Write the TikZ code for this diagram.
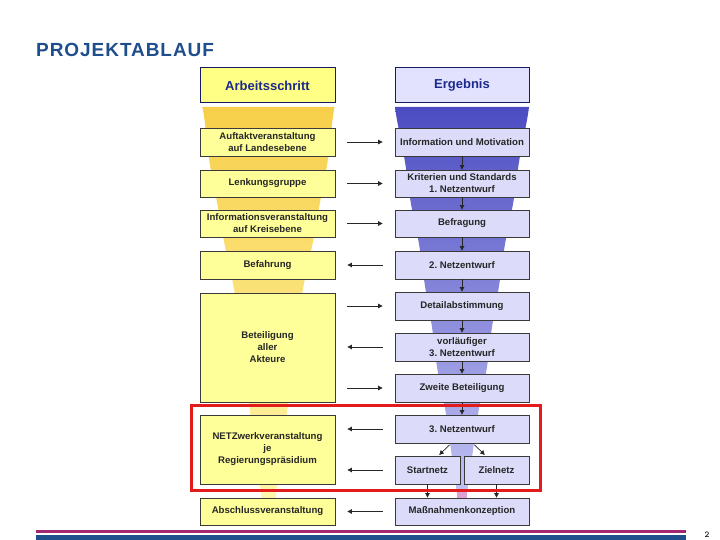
\documentclass[tikz,border=0pt]{standalone}
\usepackage{fontspec}
\setmainfont{Liberation Sans}
\usetikzlibrary{arrows.meta}
\frenchspacing
\definecolor{yfill}{HTML}{FFFF99}
\definecolor{yhead}{HTML}{FFFF85}
\definecolor{bfill}{HTML}{DCDCFA}
\definecolor{bhead}{HTML}{E2E2FF}
\definecolor{navy}{HTML}{1F4E8C}
\definecolor{hnavy}{HTML}{1C2A8C}
\definecolor{edge}{HTML}{3A3A3A}
\definecolor{ytop}{HTML}{F7CF4A}
\definecolor{ybot}{HTML}{FFF9B2}
\definecolor{btop}{HTML}{4C4CC2}
\definecolor{bbot}{HTML}{C4C4F4}
\definecolor{redframe}{HTML}{E21C1C}
\definecolor{magbar}{HTML}{A3276E}
\definecolor{pinktip}{HTML}{DDA0D2}
\begin{document}
\begin{tikzpicture}[x=1pt,y=-1pt,
  boxtext/.style={font=\fontsize{9.6}{12}\selectfont\bfseries\frenchspacing, text=black!85, align=center, inner sep=0pt},
  ybox/.style={boxtext, draw=edge, line width=0.8pt, fill=yfill, minimum width=135pt},
  bbox/.style={boxtext, draw=edge, line width=0.8pt, fill=bfill, minimum width=134pt},
  hdr/.style={font=\fontsize{13}{15}\selectfont\bfseries, text=hnavy, draw=hnavy!70!black, line width=1pt, minimum height=35pt, inner sep=0pt},
  arr/.style={-{Triangle[width=4.5pt,length=4.5pt]}, line width=0.75pt, black!85},
  harr/.style={arr, shorten <=12pt, shorten >=12pt},
  varr/.style={arr, line width=0.7pt}
]
\useasboundingbox (0,0) rectangle (720,540);

% funnels
\shade[top color=ytop, bottom color=ybot]
  plot[smooth] coordinates {(202.5,107) (204.5,120) (209.5,162) (217.5,205) (224.5,244) (233.5,286) (240.5,330) (249.5,408) (255.5,450) (260.5,490) (263.5,525)}
  -- plot[smooth] coordinates {(273.5,525) (276.5,490) (281.5,450) (287.5,408) (296.5,330) (303.5,286) (312.5,244) (319.5,205) (327.5,162) (332.5,120) (334.5,107)}
  -- cycle;
\shade[top color=btop, bottom color=bbot]
  plot[smooth] coordinates {(395,107) (397,120) (405,162) (411,204) (419,244) (425,286) (432,327) (437,367) (445,408) (451,450) (456.5,490) (457.5,500)}
  -- plot[smooth] coordinates {(466.5,500) (467.5,490) (473,450) (479,408) (487,367) (492,327) (499,286) (505,244) (513,204) (519,162) (527,120) (529,107)}
  -- cycle;
\fill[pinktip] (456.8,490) rectangle (467.2,498);

% title
\node[anchor=base west, inner sep=0pt, text=navy, font=\fontsize{19}{22}\selectfont\bfseries\addfontfeature{LetterSpace=5}] (title) at (36,56.7) {PROJEKTABLAUF};

% headers
\node[hdr, fill=yhead, minimum width=135pt] (h1) at (267.5,85.5) {Arbeitsschritt};
\node[hdr, fill=bhead, minimum width=134pt] (h2) at (462,85.5) {Ergebnis};

% left column
\node[ybox, minimum height=28pt] (l1) at (267.5,142) {Auftaktveranstaltung\\auf Landesebene};
\node[ybox, minimum height=27pt] (l2) at (267.5,183.5) {Lenkungsgruppe};
\node[ybox, minimum height=27pt] (l3) at (267.5,223.5) {Informationsveranstaltung\\auf Kreisebene};
\node[ybox, minimum height=28pt] (l4) at (267.5,265) {Befahrung};
\node[ybox, minimum height=109pt] (l5) at (267.5,347.5) {Beteiligung\\aller\\Akteure};
\node[ybox, minimum height=69pt] (l6) at (267.5,449.5) {NETZwerkveranstaltung\\je\\Regierungspräsidium};
\node[ybox, minimum height=27pt] (l7) at (267.5,511.5) {Abschlussveranstaltung};

% right column
\node[bbox, minimum height=28pt] (r1) at (462,142) {Information und Motivation};
\node[bbox, minimum height=27pt] (r2) at (462,183.5) {Kriterien und Standards\\1. Netzentwurf};
\node[bbox, minimum height=27pt] (r3) at (462,223.5) {Befragung};
\node[bbox, minimum height=28pt] (r4) at (462,265) {2. Netzentwurf};
\node[bbox, minimum height=28pt] (r5) at (462,306) {Detailabstimmung};
\node[bbox, minimum height=28pt] (r6) at (462,347) {vorläufiger\\3. Netzentwurf};
\node[bbox, minimum height=28pt] (r7) at (462,388) {Zweite Beteiligung};
\node[bbox, minimum height=28pt] (r8) at (462,429) {3. Netzentwurf};
\node[bbox, minimum height=28pt, minimum width=65pt] (s1) at (427.5,470) {Startnetz};
\node[bbox, minimum height=28pt, minimum width=65pt] (s2) at (496.5,470) {Zielnetz};
\node[bbox, minimum height=27pt] (r9) at (462,511.5) {Maßnahmenkonzeption};

% horizontal arrows
\draw[harr] (l1.east) -- (r1.west);
\draw[harr] (l2.east) -- (r2.west);
\draw[harr] (l3.east) -- (r3.west);
\draw[harr] (r4.west) -- (l4.east);
\draw[harr] (r5.west -| l5.east) -- (r5.west);
\draw[harr] (r6.west) -- (r6.west -| l5.east);
\draw[harr] (r7.west -| l5.east) -- (r7.west);
\draw[harr] (r8.west) -- (r8.west -| l6.east);
\draw[harr] (s1.west) -- (s1.west -| l6.east);
\draw[harr] (r9.west) -- (l7.east);

% vertical arrows
\draw[varr] (r1.south) -- (r2.north);
\draw[varr] (r2.south) -- (r3.north);
\draw[varr] (r3.south) -- (r4.north);
\draw[varr] (r4.south) -- (r5.north);
\draw[varr] (r5.south) -- (r6.north);
\draw[varr] (r6.south) -- (r7.north);
\draw[varr] (r7.south) -- (r8.north);
\draw[varr, shorten <=2pt, shorten >=1pt] ([xshift=-11pt]r8.south) -- ([xshift=11pt]s1.north);
\draw[varr, shorten <=2pt, shorten >=1pt] ([xshift=11pt]r8.south) -- ([xshift=-11pt]s2.north);
\draw[varr] (s1.south) -- (s1.south |- r9.north);
\draw[varr] (s2.south) -- (s2.south |- r9.north);

% red frame
\draw[redframe, line width=3pt] (191,405) rectangle (540,490);

% bottom bars
\fill[magbar] (36,530) rectangle (686,533);
\fill[navy] (36,534.5) rectangle (686,540);
\node[anchor=base, inner sep=0pt, font=\ttfamily\fontsize{9}{10}\selectfont\bfseries] (pg) at (707,537) {2};
\end{tikzpicture}
\end{document}
